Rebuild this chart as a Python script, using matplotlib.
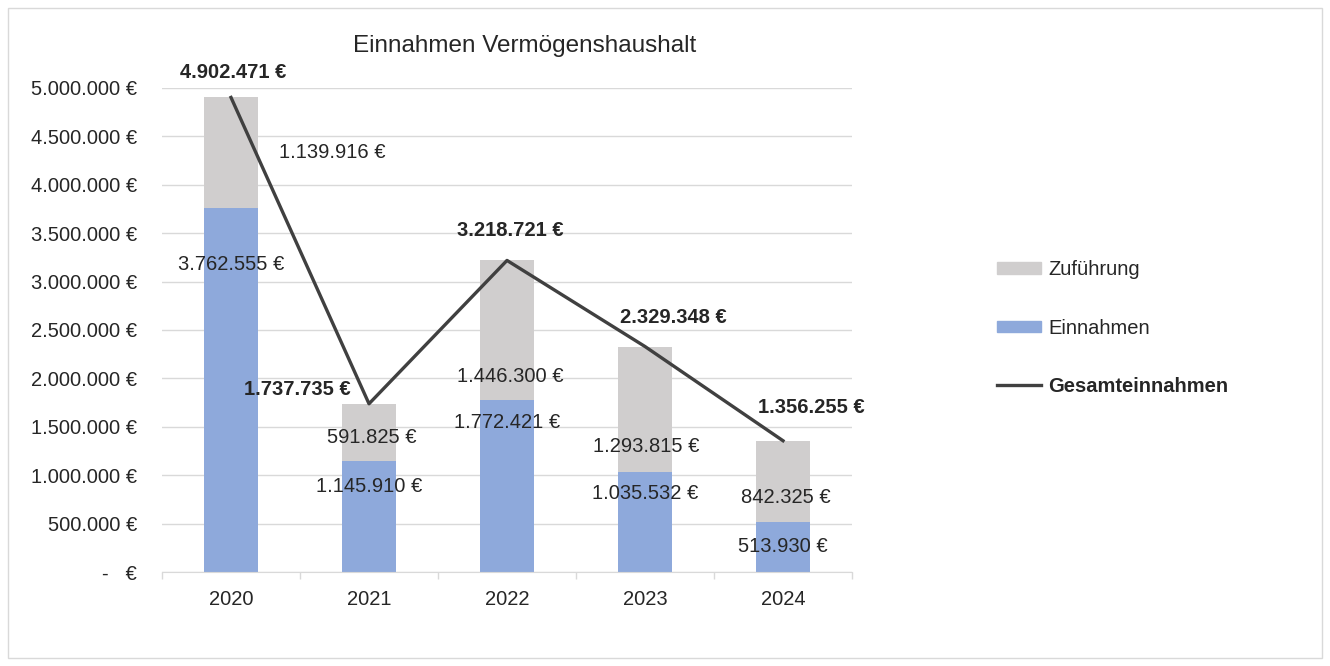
import matplotlib.pyplot as plt
import matplotlib.ticker as mticker
from matplotlib.patches import Rectangle, Patch
from matplotlib.lines import Line2D
import numpy as np

plt.rcParams['font.family'] = ['Liberation Sans', 'DejaVu Sans']

#data
years = ["2020", "2021", "2022", "2023", "2024"]
einnahmen = [3762555, 1145910, 1772421, 1035532, 513930]
zufuehrung = [1139916, 591825, 1446300, 1293815, 842325]
gesamt = [4902471, 1737735, 3218721, 2329348, 1356255]

BLUE = "#8EA9DB"
GREY = "#D0CECE"
LINE = "#404040"
GRID = "#D9D9D9"
FS = 14.5


def euro(v):
    if v == 0:
        return "-   €"
    return f"{int(round(v)):,} €".replace(",", ".")


fig = plt.figure(figsize=(13.3, 6.66), dpi=100)
fig.patches.append(Rectangle((8 / 1330, 8 / 666), 1314 / 1330, 650 / 666,
                             transform=fig.transFigure, fill=False,
                             edgecolor=GRID, linewidth=1))
ax = fig.add_axes([162 / 1330, 94 / 666, 690 / 1330, 484 / 666])

x = np.arange(len(years))
w = 0.39
ax.bar(x, einnahmen, w, color=BLUE, zorder=2)
ax.bar(x, zufuehrung, w, bottom=einnahmen, color=GREY, zorder=2)
ax.plot(x, gesamt, color=LINE, linewidth=2.4, zorder=3)

ax.set_xlim(-0.5, len(years) - 0.5)
ax.set_ylim(0, 5000000)
ax.yaxis.set_major_locator(mticker.MultipleLocator(500000))
ax.yaxis.set_major_formatter(mticker.FuncFormatter(lambda v, p: euro(v)))
ax.grid(axis="y", color=GRID, linewidth=1, zorder=0)
ax.set_axisbelow(True)

ax.set_xticks(x)
ax.set_xticklabels(years)
ax.set_xticks(np.arange(-0.5, len(years), 1), minor=True)
ax.tick_params(axis="x", which="major", length=0, pad=13, labelsize=FS, colors="#262626")
ax.tick_params(axis="x", which="minor", length=5, color=GRID, width=1)
ax.tick_params(axis="y", length=0, pad=18, labelsize=FS, colors="#262626")
for s in ["top", "right", "left"]:
    ax.spines[s].set_visible(False)
ax.spines["bottom"].set_color(GRID)

fig.text(525 / 1330, 1 - 46 / 666, "Einnahmen Vermögenshaushalt",
         ha="center", va="center", fontsize=17.5, color="#262626")

# labels (offsets in pixels)
ein_off = [(0, -57), (0, -25), (0, -22), (0, -22), (0, -24)]
zu_off = [(101, 55), (3, 24), (3, 24), (1, 25), (3, 25)]
ges_off = [(2, 25), (-72, 14), (3, 30), (28, 29), (28, 33)]
for i in range(len(years)):
    ax.annotate(euro(einnahmen[i]), (x[i], einnahmen[i]), xytext=ein_off[i],
                textcoords="offset pixels", ha="center", va="center",
                fontsize=FS, color="#262626", zorder=4)
    ax.annotate(euro(zufuehrung[i]), (x[i], einnahmen[i]), xytext=zu_off[i],
                textcoords="offset pixels", ha="center", va="center",
                fontsize=FS, color="#262626", zorder=4)
    ax.annotate(euro(gesamt[i]), (x[i], gesamt[i]), xytext=ges_off[i],
                textcoords="offset pixels", ha="center", va="center",
                fontsize=FS, fontweight="bold", color="#262626", zorder=4)

handles = [Patch(color=GREY), Patch(color=BLUE), Line2D([], [], color=LINE, linewidth=2.4)]
leg = fig.legend(handles, ["Zuführung", "Einnahmen", "Gesamteinnahmen"],
                 loc="center left", bbox_to_anchor=(979 / 1330, 1 - 328 / 666),
                 frameon=False, fontsize=FS, labelspacing=1.95,
                 handlelength=2.2, handleheight=0.5, handletextpad=0.35)
for t in leg.get_texts():
    t.set_color("#262626")
leg.get_texts()[2].set_fontweight("bold")

fig.savefig("out.png", dpi=100)
